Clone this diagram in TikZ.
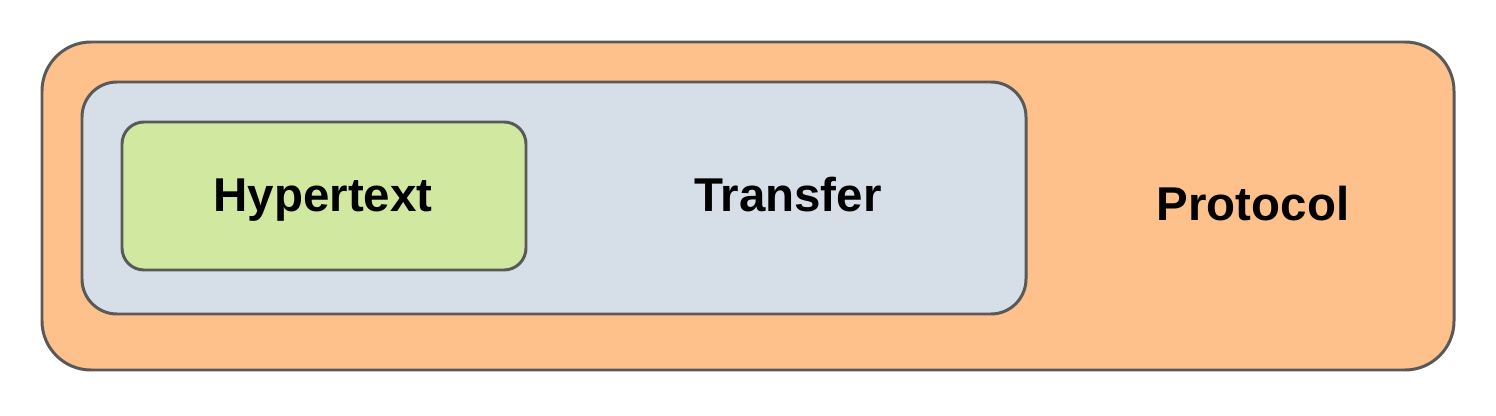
\documentclass[tikz,border=0pt]{standalone}
\usepackage{fontspec}
\setmainfont{Liberation Sans}
\usepackage{amsmath}

\definecolor{protofill}{HTML}{FFC18B}
\definecolor{transfill}{HTML}{D6DEE8}
\definecolor{hyperfill}{HTML}{D0E8A0}
\definecolor{edgegray}{HTML}{595959}

\begin{document}
\begin{tikzpicture}
        \useasboundingbox (0,0) rectangle (29.92,-8.32);
        \tikzset{layer/.style={draw=edgegray, line width=1.7pt, inner sep=0pt, outer sep=0pt},
                 word/.style={font=\fontsize{27}{30}\selectfont\bfseries, anchor=base, inner sep=0pt}}

        \node[layer, fill=protofill, rounded corners=0.98cm, minimum width=28.24cm, minimum height=6.56cm] (P) at (14.96,-4.12) {};
        \node[layer, fill=transfill, rounded corners=0.70cm, minimum width=18.88cm, minimum height=4.64cm] (T) at (11.08,-3.96) {};
        \node[layer, fill=hyperfill, rounded corners=0.44cm, minimum width=8.08cm, minimum height=2.96cm] (H) at (6.48,-3.92) {};

        \node[word] (Hw) at (6.46,-4.24) {Hypertext};
        \node[word] (Tw) at (15.76,-4.24) {Transfer};
        \node[word] (Pw) at (25.06,-4.42) {Protocol};
    \end{tikzpicture}
\end{document}
